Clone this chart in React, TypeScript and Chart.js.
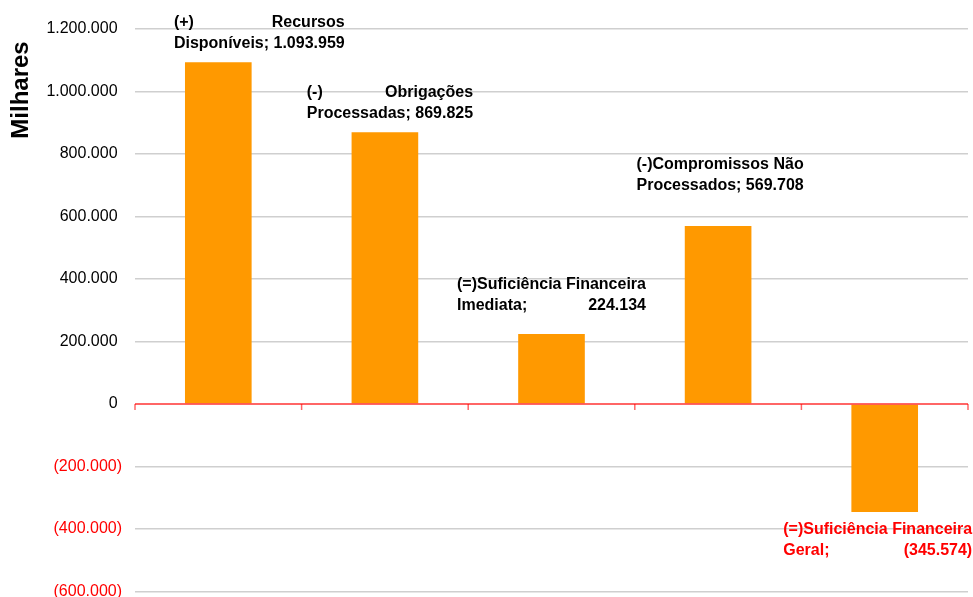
import React, { useEffect, useRef } from "react";
import { Chart, registerables } from "chart.js";

Chart.register(...registerables);

// ---- data ----
const labelFirstLine = [
  "(+) Recursos",
  "(-) Obrigações",
  "(=)Suficiência Financeira",
  "(-)Compromissos Não",
  "(=)Suficiência Financeira",
];
const labelSecondLine = ["Disponíveis", "Processadas", "Imediata", "Processados", "Geral"];
const values = [1093959, 869825, 224134, 569708, -345574];
const yMin = -600000;
const yMax = 1200000;
const yStep = 200000;
const yTitle = "Milhares";

// ---- style (label placement relative to bar end, in px) ----
const labelDx = [41, 5, 0, 2, -7];
const labelDy = [-40, -40, -49, -61, 18];

const FONT = "'Liberation Sans', Arial, sans-serif";

function fmt(v: number): string {
  const s = Math.round(Math.abs(v)).toString();
  const withDots = s.replace(/\B(?=(\d{3})+(?!\d))/g, ".");
  return v < 0 ? `(${withDots})` : withDots;
}

const overlayPlugin = {
  id: "overlay",
  afterDatasetsDraw(chart: any) {
    const { ctx, chartArea } = chart;
    const yScale = chart.scales.y;
    const meta = chart.getDatasetMeta(0);
    const y0 = yScale.getPixelForValue(0);

    // zero line with category tick marks
    ctx.save();
    ctx.strokeStyle = "rgba(255,0,0,0.6)";
    ctx.lineWidth = 2;
    ctx.beginPath();
    ctx.moveTo(chartArea.left, y0);
    ctx.lineTo(chartArea.right, y0);
    ctx.stroke();
    ctx.lineWidth = 1.5;
    const n = values.length;
    for (let i = 0; i <= n; i++) {
      const x = chartArea.left + (i * (chartArea.right - chartArea.left)) / n;
      ctx.beginPath();
      ctx.moveTo(x, y0);
      ctx.lineTo(x, y0 + 6);
      ctx.stroke();
    }
    ctx.restore();

    // data labels (justified two-line text)
    ctx.save();
    ctx.font = `bold 16px ${FONT}`;
    ctx.textBaseline = "middle";
    ctx.textAlign = "left";
    meta.data.forEach((bar: any, i: number) => {
      const v = values[i];
      const lines = [labelFirstLine[i], `${labelSecondLine[i]}; ${fmt(v)}`];
      const widths = lines.map((l) => ctx.measureText(l).width);
      const W = Math.max(...widths);
      const cx = bar.x + labelDx[i];
      const left = cx - W / 2;
      const yFirst = bar.y + labelDy[i];
      ctx.fillStyle = v < 0 ? "#ff0000" : "#000000";
      lines.forEach((line, li) => {
        const y = yFirst + li * 21;
        const words = line.split(" ");
        if (words.length < 2) {
          ctx.fillText(line, left, y);
          return;
        }
        const ww = words.map((w) => ctx.measureText(w).width);
        const total = ww.reduce((a, b) => a + b, 0);
        const gap = (W - total) / (words.length - 1);
        let x = left;
        words.forEach((w, wi) => {
          ctx.fillText(w, x, y);
          x += ww[wi] + gap;
        });
      });
    });
    ctx.restore();

    // axis title
    ctx.save();
    ctx.translate(21, 90);
    ctx.rotate(-Math.PI / 2);
    ctx.font = `bold 24px ${FONT}`;
    ctx.fillStyle = "#000000";
    ctx.textAlign = "center";
    ctx.textBaseline = "middle";
    ctx.fillText(yTitle, 0, 0);
    ctx.restore();
  },
};

export default function App() {
  const canvasRef = useRef<HTMLCanvasElement | null>(null);

  useEffect(() => {
    const canvas = canvasRef.current;
    if (!canvas) return;
    const chart = new Chart(canvas, {
      type: "bar",
      data: {
        labels: labelSecondLine,
        datasets: [
          {
            data: values,
            backgroundColor: "#ff9900",
            borderWidth: 0,
            barPercentage: 0.4,
            categoryPercentage: 1.0,
          },
        ],
      },
      options: {
        responsive: false,
        animation: false,
        devicePixelRatio: 1,
        layout: { padding: { top: 29, bottom: 5.5, right: 5, left: 0 } },
        plugins: {
          legend: { display: false },
          title: { display: false },
          tooltip: { enabled: false },
        },
        scales: {
          x: { display: false },
          y: {
            min: yMin,
            max: yMax,
            border: { display: false },
            grid: {
              drawTicks: false,
              lineWidth: 1.5,
              color: (c: any) => (c.tick && c.tick.value === 0 ? "rgba(0,0,0,0)" : "#cfcfcf"),
            },
            ticks: {
              stepSize: yStep,
              padding: 13,
              font: { family: FONT, size: 16 },
              color: (c: any) => (c.tick && c.tick.value < 0 ? "#ff0000" : "#000000"),
              callback: (v: any) => {
                const n = Number(v);
                return n < 0 ? fmt(n) : fmt(n) + " ";
              },
            },
            afterFit: (scale: any) => {
              scale.width = 135;
              scale.paddingTop = 0;
              scale.paddingBottom = 0;
            },
          },
        },
      },
      plugins: [overlayPlugin],
    });
    return () => chart.destroy();
  }, []);

  return (
    <div style={{ position: "fixed", left: 0, top: 0, width: 973, height: 597, background: "#fff" }}>
      <canvas ref={canvasRef} width={973} height={597} style={{ display: "block" }} />
    </div>
  );
}
